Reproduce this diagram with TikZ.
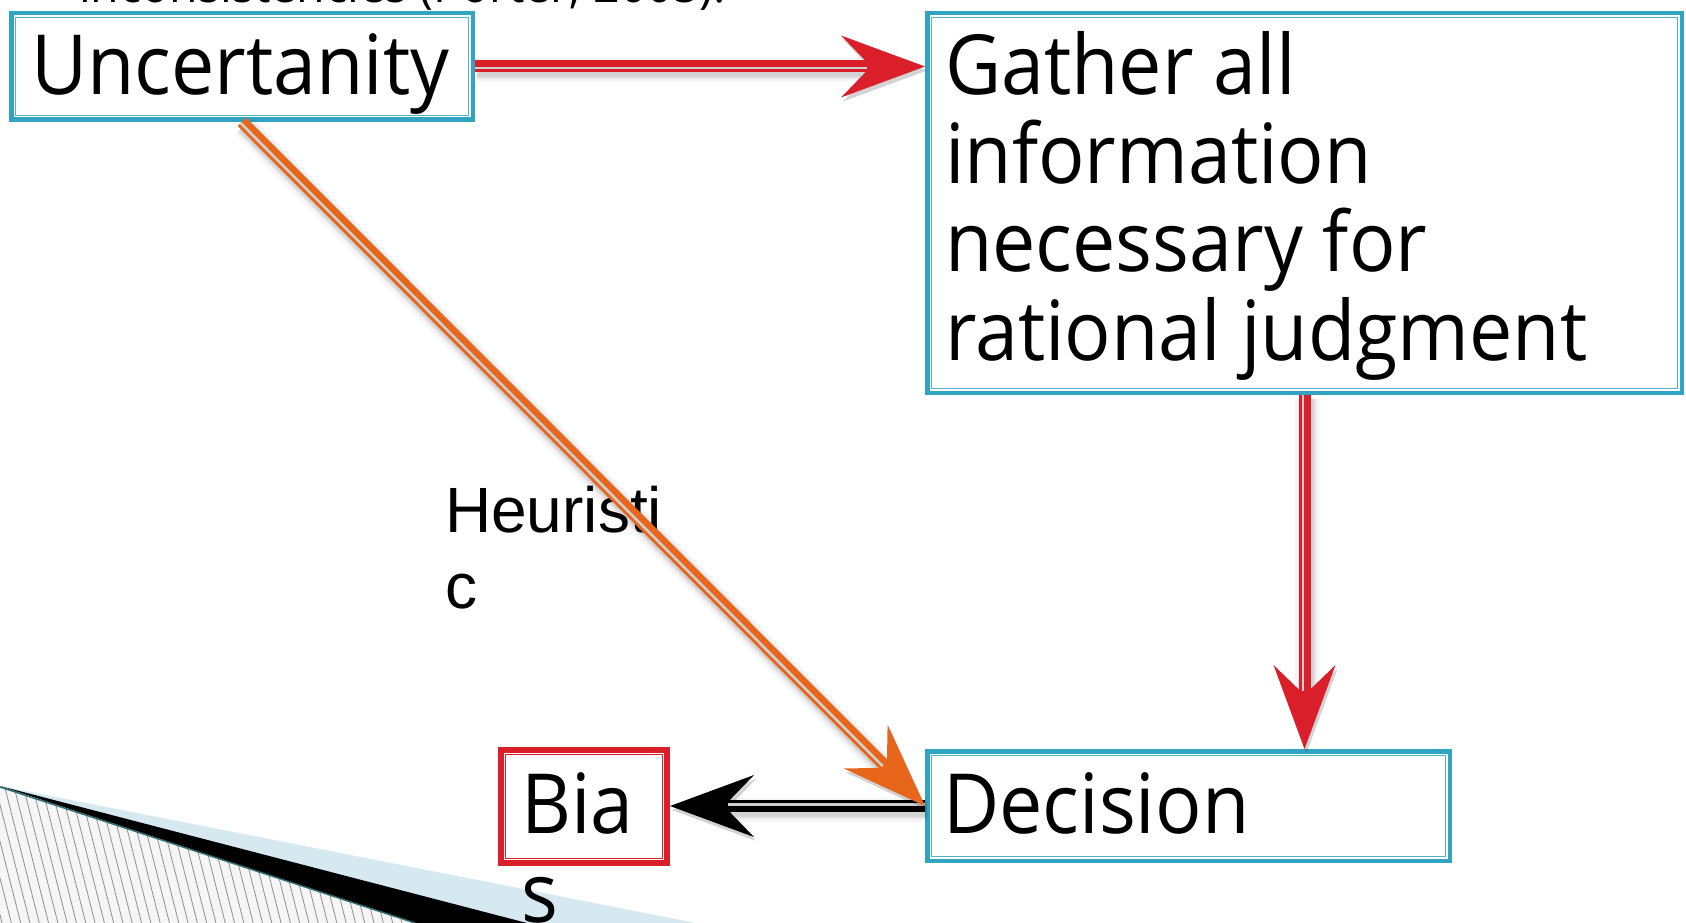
\documentclass[tikz,border=0pt]{standalone}
\usepackage{fontspec}
\setmainfont{Open Sans}
\newfontfamily\boxfont[FakeStretch=0.93]{Open Sans}
\newfontfamily\labelfont{Liberation Sans}
\usetikzlibrary{arrows.meta,calc}

\definecolor{boxcyan}{HTML}{31A4C2}
\definecolor{boxred}{HTML}{DA1F2A}
\definecolor{arrred}{HTML}{DA1F2A}
\definecolor{arrorange}{HTML}{E8661C}
\definecolor{bandblue}{HTML}{D6E9F1}
\definecolor{hatchgray}{HTML}{8F8F8F}
\definecolor{hatchback}{HTML}{F6F6F6}
\definecolor{edgeteal}{HTML}{2E6E72}
\definecolor{gapgray}{HTML}{CFCFCF}

\tikzset{
  cbox/.style={draw=boxcyan, line width=4.5pt, inner sep=0pt, fill=white},
  rbox/.style={draw=boxred, line width=6pt, inner sep=0pt, fill=white},
  cinner/.style={draw=boxcyan!85, line width=1.8pt},
  rinner/.style={draw=boxred, line width=1.8pt},
  boxtext/.style={font=\boxfont\fontsize{83}{88.5}\selectfont, inner sep=0pt, anchor=base west, align=left},
  bigtip/.style={-{Stealth[length=84pt,width=62pt,inset=30pt,line width=0pt]}},
}

% double-stroke connector: thick band with a light gap stripe and a soft shadow
% #1 from, #2 to, #3 colour
\newcommand\dlink[3]{%
  \begin{scope}[transform canvas={shift={(2pt,-4pt)}}]
    \foreach \w/\o in {24/0.04,18/0.06,14/0.08}
      \draw[line width=\w pt, draw=black, opacity=\o, bigtip] (#1) -- (#2);
  \end{scope}
  \draw[line width=12pt, draw=#3, bigtip] (#1) -- (#2);
  \draw[line width=2.5pt, draw=gapgray, shorten >=58pt]
    ($(#1)!1.75pt!-90:(#2)$) -- ($(#2)!1.75pt!90:(#1)$);
}

\begin{document}
\begin{tikzpicture}[x=1pt, y=-1pt]
\useasboundingbox (0,0) rectangle (1686,923);
\fill[white] (0,0) rectangle (1686,923);

% corner ornament: light band, dark wedge, hatched field
\fill[bandblue] (0,786) -- (696,923) -- (0,923) -- cycle;
\fill[black] (0,786) -- (527,923) -- (415,923) -- cycle;
\begin{scope}
  \clip (0,787) -- (415,923) -- (0,923) -- cycle;
  \fill[hatchback] (0,780) rectangle (420,923);
  \foreach \k in {0,...,60}
    \draw[hatchgray, line width=0.8pt] (-90+\k*9.3, 780) -- ++(40.6,160);
\end{scope}
\draw[edgeteal, line width=1.5pt] (0,787) -- (415,923);

% cut-off line of text at the top
\node[font=\boxfont\fontsize{50}{60}\selectfont, anchor=base west, inner sep=0pt] (topline) at (79,3) {inconsistencies (Porter, 2005).};

% boxes
\node[cbox, minimum width=461.5pt, minimum height=106.5pt] (unc) at (242,66.5) {};
\node[cbox, minimum width=754.5pt, minimum height=379.5pt] (gat) at (1304.5,203) {};
\node[cbox, minimum width=522.5pt, minimum height=109.5pt] (dec) at (1188.5,806) {};
\node[rbox, minimum width=166pt, minimum height=113pt] (bias) at (584,806.5) {};
\foreach \b in {unc,gat,dec}
  \draw[cinner] ($(\b.north west)+(6.5,6.5)$) rectangle ($(\b.south east)+(-6.5,-6.5)$);
\draw[rinner] ($(bias.north west)+(7.5,7.5)$) rectangle ($(bias.south east)+(-7.5,-7.5)$);

% box texts (base anchor sits on the last line)
\node[boxtext] (unctext) at (31,95) {Uncertanity};
\node[boxtext] (gattext) at (945,360) {Gather all\\information\\necessary for\\rational judgment};
\node[boxtext] (dectext) at (943,833) {Decision};
\node[boxtext] (biastext) at (521,922) {Bia\\s};

% label on the diagonal
\node[font=\labelfont\fontsize{64}{76}\selectfont, anchor=base west, align=left, inner sep=0pt] (heur) at (445,608) {Heuristi\\c};

% connectors
\coordinate (h1) at (unc.east -| gat.west);
\coordinate (v2) at (gat.south |- dec.north);
\coordinate (b4) at (dec.west -| bias.east);
\dlink{dec.west}{b4}{black}
\dlink{unc.east}{h1}{arrred}
\dlink{gat.south}{v2}{arrred}
\dlink{unc.south}{dec.west}{arrorange}
\end{tikzpicture}
\end{document}
